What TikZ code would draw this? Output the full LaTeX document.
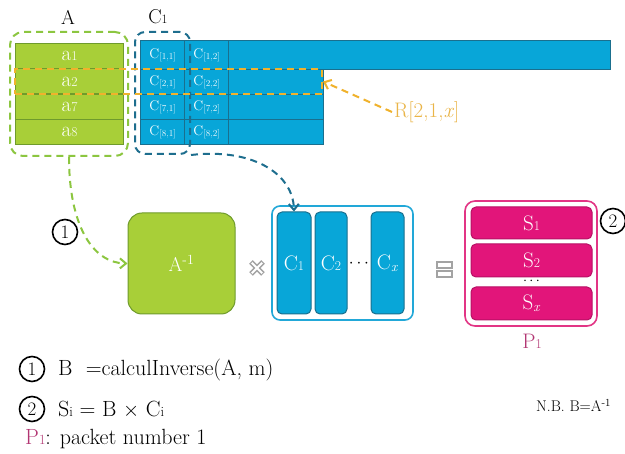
\documentclass[tikz,border=0pt]{standalone}
\usetikzlibrary{arrows.meta}
\definecolor{lime}{HTML}{A8CF38}
\definecolor{limeedge}{HTML}{6F9B2C}
\definecolor{limedash}{HTML}{8CC640}
\definecolor{sky}{HTML}{08A6D8}
\definecolor{skyedge}{HTML}{1A6F8E}
\definecolor{skydash}{HTML}{1E6E8E}
\definecolor{skyframe}{HTML}{22A8D8}
\definecolor{amber}{HTML}{F0B22C}
\definecolor{ambertext}{HTML}{EAB548}
\definecolor{rose}{HTML}{E2157A}
\definecolor{roseedge}{HTML}{B81065}
\definecolor{roseframe}{HTML}{E23585}
\definecolor{plum}{HTML}{B23572}
\definecolor{symgray}{HTML}{A3A3A3}
% small index digits that sit on the baseline
\newcommand\idx[1]{\scalebox{0.64}{#1}}
\newcommand\cidx[1]{\raisebox{-0.25ex}{\scalebox{0.66}{#1}}}
\begin{document}
\begin{tikzpicture}[x=1pt,y=-1pt,
  acell/.style={draw=limeedge, fill=lime, line width=1.2pt, text=white,
    anchor=north west, inner sep=0pt, minimum width=108pt, minimum height=25.25pt,
    font=\fontsize{21}{21}\selectfont},
  ccell/.style={draw=skyedge, fill=sky, line width=1.2pt, text=white,
    anchor=north west, inner sep=0pt, minimum width=44pt, minimum height=25pt,
    font=\fontsize{14}{14}\selectfont},
  colbar/.style={draw=skyedge, fill=sky, line width=1pt, rounded corners=5pt,
    text=white, inner sep=0pt, font=\fontsize{21}{21}\selectfont},
  sbar/.style={draw=roseedge, fill=rose, line width=1pt, rounded corners=5pt,
    text=white, inner sep=0pt, minimum width=121pt, font=\fontsize{21}{21}\selectfont},
  stepnum/.style={circle, draw=black, line width=1.6pt, minimum size=25pt,
    inner sep=0pt, font=\fontsize{19}{19}\selectfont},
  heading/.style={font=\fontsize{20}{20}\selectfont, inner sep=0pt},
  caption/.style={font=\fontsize{22}{22}\selectfont, anchor=base west, inner sep=0pt},
  dashline/.style={dashed, dash pattern=on 7pt off 5pt, line width=2pt},
  barb/.style={-{Straight Barb[length=6pt,width=10pt,line width=2pt]}}
]
\fill[white] (0,0) rectangle (625,454);
\useasboundingbox (0,0) rectangle (625,454);

% column labels
\node[heading] (Alab) at (68,17) {A};
\node[heading] (C1lab) at (158,17) {C\idx{1}};

% matrix A
\node[acell] (a1) at (15,43) {a\idx{1}};
\node[acell] (a2) at (15,68.25) {a\idx{2}};
\node[acell] (a7) at (15,93.5) {a\idx{7}};
\node[acell] (a8) at (15,118.75) {a\idx{8}};

% matrix C, first row is long
\node[ccell, minimum height=29pt] (c11) at (140,40) {C\cidx{[1,1]}};
\node[ccell, minimum height=29pt] (c12) at (184,40) {C\cidx{[1,2]}};
\node[ccell, minimum height=29pt, minimum width=382pt] (c1r) at (228,40) {};
\foreach \r/\n/\y in {2/2/69,3/7/94,4/8/119}{
  \node[ccell] (c\r1) at (140,\y) {C\cidx{[\n,1]}};
  \node[ccell] (c\r2) at (184,\y) {C\cidx{[\n,2]}};
  \node[ccell, minimum width=95pt] (c\r r) at (228,\y) {};
}

% dashed groupings
\node[draw=limedash, dashline, rounded corners=13pt, minimum width=118pt,
  minimum height=124pt, inner sep=0pt] (Abox) at (69,94) {};
\node[draw=skydash, dashline, rounded corners=10pt, minimum width=55pt,
  minimum height=122pt, inner sep=0pt] (C1box) at (162.5,93) {};
\node[draw=amber, dashline, minimum width=307pt, minimum height=25pt,
  inner sep=0pt] (row2) at (168.5,81.5) {};

% row selector label
\node[font=\fontsize{21}{21}\selectfont, text=ambertext, anchor=west, inner sep=2pt]
  (Rlab) at (392,112) {R[2,1,\textit{x}]};
\draw[amber, dashline, barb] (Rlab.west) -- (row2.east);

% inverse of A
\node[draw=limeedge, fill=lime, line width=1pt, rounded corners=14pt,
  minimum width=107pt, minimum height=101pt, inner sep=0pt, text=white,
  font=\fontsize{20}{20}\selectfont] (Ainv) at (181.5,263.5) {A\textsuperscript{-1}};

% columns of C
\node[draw=skyframe, fill=white, line width=1.6pt, rounded corners=8pt,
  minimum width=141pt, minimum height=114pt, inner sep=0pt] (Cgrp) at (342.5,263) {};
\node[colbar, minimum width=34pt, minimum height=102pt] (col1) at (294,263) {C\idx{1}};
\node[colbar, minimum width=32pt, minimum height=102pt] (col2) at (331,263) {C\idx{2}};
\node[colbar, minimum width=33pt, minimum height=102pt] (colx) at (387.5,263) {C\cidx{\textit{x}}};
\node[font=\fontsize{17}{17}\selectfont, inner sep=0pt] (cdots) at (359,264) {$\cdots$};

% packet of results
\node[draw=roseframe, fill=white, line width=1.6pt, rounded corners=10pt,
  minimum width=132pt, minimum height=125pt, inner sep=0pt] (Pgrp) at (531,263.5) {};
\node[sbar, minimum height=32pt] (s1) at (531.5,223) {S\idx{1}};
\node[sbar, minimum height=33pt] (s2) at (531.5,260.5) {S\idx{2}};
\node[sbar, minimum height=33pt] (sx) at (531.5,303.5) {S\cidx{\textit{x}}};
\node[font=\fontsize{14}{14}\selectfont, inner sep=0pt] (sdots) at (531.5,281) {$\cdots$};
\node[heading, text=plum, font=\fontsize{21}{21}\selectfont] (Plab) at (532,341) {P\idx{1}};

% operators
\begin{scope}[shift={(257,268)}]
  \draw[symgray, line width=5pt] (-6,-6) -- (6,6) (-6,6) -- (6,-6);
  \draw[white, line width=2pt] (-5.2,-5.2) -- (5.2,5.2) (-5.2,5.2) -- (5.2,-5.2);
\end{scope}
\draw[symgray, line width=1.6pt, fill=white] (437,262) rectangle (452,268)
  (437,271) rectangle (452,277);

% step markers
\node[stepnum] (m1) at (65,232) {1};
\node[stepnum] (m2) at (613,221) {2};

% flows
\draw[limedash, dashline, barb] (Abox.south) .. controls (69,226) and (93,263) .. (Ainv.west);
\draw[skydash, dashline, barb] (C1box.south east) .. controls (250,148) and (293,172) .. (col1.north);

% notes
\node[stepnum] (k1) at (32,369) {1};
\node[caption] (f1) at (58,376) {B\ \ =calculInverse(A, m)};
\node[stepnum] (k2) at (32,409) {2};
\node[caption] (f2) at (58,417) {S\idx{i}\ = B $\times$ C\idx{i}};
\node[caption] (f3) at (25,445) {\textcolor{plum}{P\idx{1}}: packet number 1};
\node[font=\fontsize{15.5}{15.5}\selectfont, anchor=base west, inner sep=0pt]
  (nb) at (536,412) {N.B. B=A\textsuperscript{-1}};
\end{tikzpicture}
\end{document}
